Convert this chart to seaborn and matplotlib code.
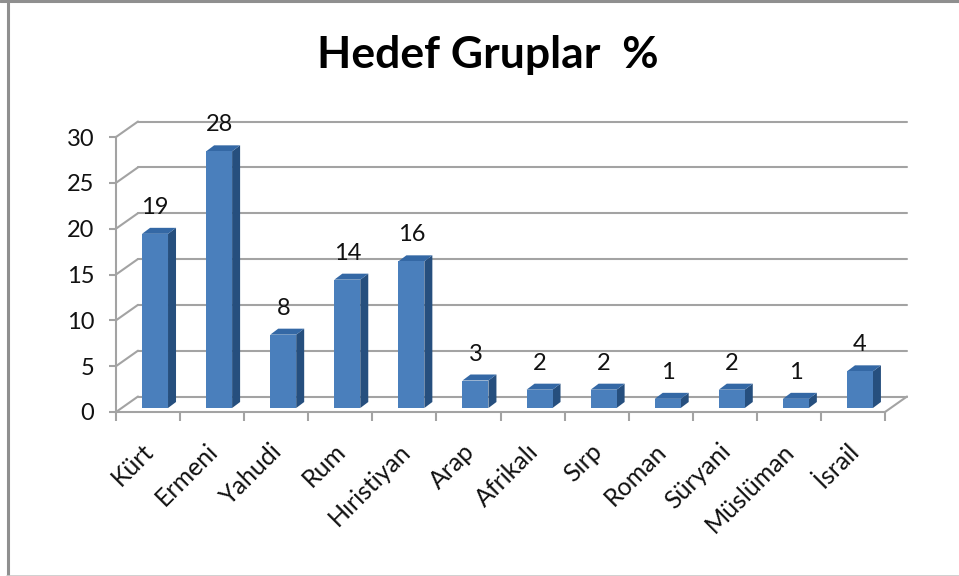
import matplotlib
matplotlib.use("Agg")
import matplotlib.pyplot as plt
import seaborn as sns
import pandas as pd
from matplotlib.lines import Line2D
from matplotlib.patches import Polygon
from matplotlib.transforms import Affine2D

categories = ["Kürt", "Ermeni", "Yahudi", "Rum", "Hıristiyan", "Arap", "Afrikalı",
              "Sırp", "Roman", "Süryani", "Müslüman", "İsrail"]
values = [19, 28, 8, 14, 16, 3, 2, 2, 1, 2, 1, 4]
y_ticks = [0, 5, 10, 15, 20, 25, 30]
title = "Hedef Gruplar  %"

W, H = 959, 576
GRID = "#a3a3a3"
FRONT, SIDE, TOP = "#4a7fbc", "#264f7e", "#3468a5"
TXT = "#111111"
FONT = "Lato"

sns.set_theme(style="white")
plt.rcParams["font.family"] = [FONT, "DejaVu Sans"]

fig = plt.figure(figsize=(W / 100, H / 100), dpi=100, facecolor="white")
L, R, T, B = 116, 885, 137, 412
ax = fig.add_axes([L / W, 1 - B / H, (R - L) / W, (B - T) / H])
df = pd.DataFrame({"grupp": categories, "deger": values})
sns.barplot(data=df, x="grupp", y="deger", color=FRONT, saturation=1, width=0.405, ax=ax, zorder=5,
            linewidth=0, edgecolor="none")
ax.set_xlim(-0.5, 11.5)
ax.set_ylim(0, 30)
ax.set_xlabel("")
ax.set_ylabel("")
ax.patch.set_alpha(0)


def shift(dx, dy):
    return ax.transData + Affine2D().translate(dx, dy)


# depth of the chart box and of the bars, in pixels
BACK = shift(22, 15.5)
BAR = shift(7, 4)
DX, DY = 8, 6

# back wall and floor
for v in y_ticks:
    ax.plot([-0.5, 11.5], [v, v], color=GRID, lw=1.5, transform=BACK, clip_on=False, zorder=1)
    p0 = ax.transData.transform((-0.5, v))
    ax.add_line(Line2D([p0[0], p0[0] + 22], [p0[1], p0[1] + 15.5], color=GRID, lw=1.5,
                       transform=None, clip_on=False, zorder=1))
p1 = ax.transData.transform((11.5, 0))
ax.add_line(Line2D([p1[0], p1[0] + 22], [p1[1], p1[1] + 15.5], color=GRID, lw=1.5,
                   transform=None, clip_on=False, zorder=1))

# bars with depth faces and value labels
for patch, val in zip(ax.patches, values):
    x0, w = patch.get_x(), patch.get_width()
    patch.set_transform(BAR)
    patch.set_clip_on(False)
    b = BAR.transform((x0 + w, val))
    c = BAR.transform((x0, val))
    d = BAR.transform((x0 + w, 0))
    ax.add_patch(Polygon([d, b, b + (DX, DY), d + (DX, DY)], closed=True, fc=SIDE, ec="none",
                         transform=None, clip_on=False, zorder=4))
    ax.add_patch(Polygon([c, b, b + (DX, DY), c + (DX, DY)], closed=True, fc=TOP, ec="none",
                         transform=None, clip_on=False, zorder=4))
    ax.annotate(str(val), (x0 + w / 2, val), xycoords=BAR, xytext=(0, 11.5), textcoords="offset points",
                ha="center", va="bottom", fontsize=17, color=TXT, zorder=6, annotation_clip=False)

# axes
for s in ("top", "right"):
    ax.spines[s].set_visible(False)
for s in ("left", "bottom"):
    ax.spines[s].set_color(GRID)
    ax.spines[s].set_linewidth(1.5)
    ax.spines[s].set_zorder(2)

ax.set_yticks(y_ticks)
ax.tick_params(axis="y", length=5, width=1.5, color=GRID, labelsize=17, labelcolor=TXT, pad=10.5, left=True)
ax.set_xticks(range(len(categories)))
ax.set_xticklabels(categories, rotation=45, ha="right", va="center", rotation_mode="anchor",
                   fontsize=18, color=TXT)
ax.set_xticks([i - 0.5 for i in range(len(categories) + 1)], minor=True)
ax.tick_params(axis="x", which="major", length=0, pad=25.5, bottom=False)
ax.tick_params(axis="x", which="minor", length=6.5, width=1.5, color=GRID, bottom=True)
for lab in ax.get_xticklabels():
    lab.set_transform(lab.get_transform() + Affine2D().translate(2, 0))

fig.text(488 / W, 1 - 55 / H, title, ha="center", va="center", fontsize=32, fontweight="bold", color="black")

# outer frame
fig.add_artist(Line2D([7.5 / W, 7.5 / W], [0, 1], color="#8f8f8f", lw=2.2))
fig.add_artist(Line2D([0, 1], [1 - 1 / H, 1 - 1 / H], color="#8f8f8f", lw=2.2))
fig.add_artist(Line2D([7 / W, 1], [0.5 / H, 0.5 / H], color="#c8c8c8", lw=1.2))

fig.savefig("out.png", dpi=100)
